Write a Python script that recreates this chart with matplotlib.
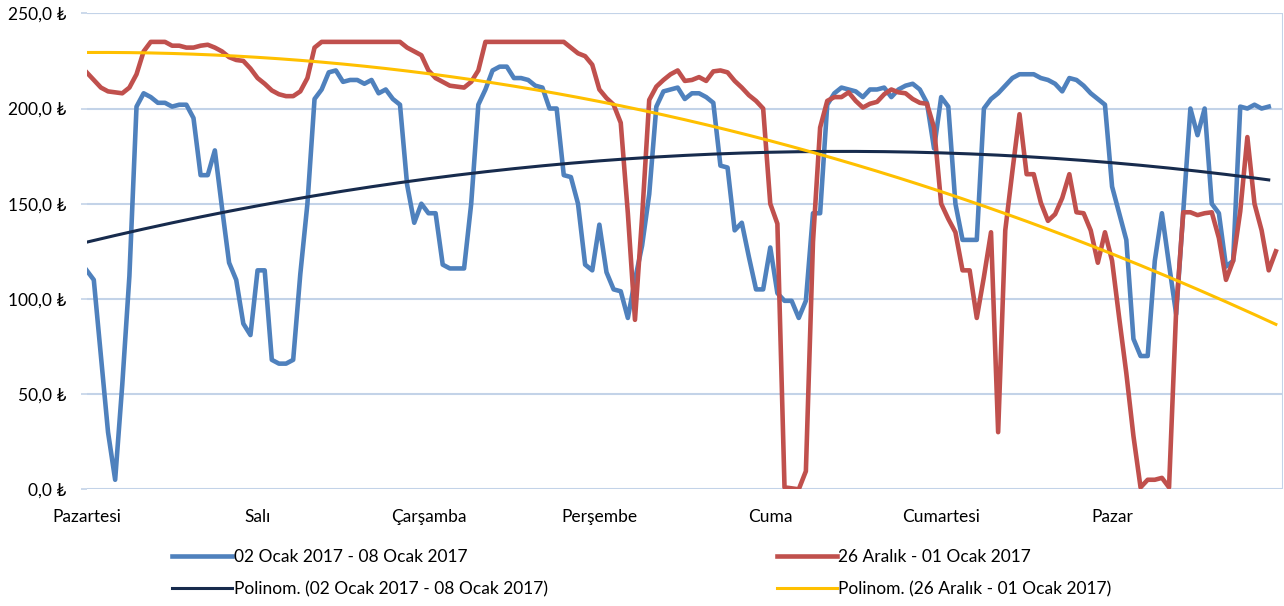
import numpy as np
import matplotlib
matplotlib.use("Agg")
import matplotlib.pyplot as plt

# ========== Datos ==========
days = ["Pazartesi", "Salı", "Çarşamba", "Perşembe", "Cuma", "Cumartesi", "Pazar"]

# 02 Ocak 2017 - 08 Ocak 2017 (saatlik, son saat yok)
week_jan = [
    115, 110, 70, 30, 5, 55, 112, 201, 208, 206, 203, 203, 201, 202, 202, 195,
    165, 165, 178, 148, 119, 110, 87, 81,
    115, 115, 68, 66, 66, 68, 113, 150, 205, 210, 219, 220, 214, 215, 215, 213,
    215, 208, 210, 205, 202, 160, 140, 150,
    145, 145, 118, 116, 116, 116, 150, 202, 210, 220, 222, 222, 216, 216, 215, 212,
    211, 200, 200, 165, 164, 150, 118, 115,
    139, 114, 105, 104, 90, 110, 128, 155, 201, 209, 210, 211, 205, 208, 208, 206,
    203, 170, 169, 136, 140, 122, 105, 105,
    127, 103, 99, 99, 90, 99, 145, 145, 202, 208, 211, 210, 209, 206, 210, 210,
    211, 206, 210, 212, 213, 210, 203, 179,
    206, 201, 150, 131, 131, 131, 200, 205, 208, 212, 216, 218, 218, 218, 216, 215,
    213, 209, 216, 215, 212, 208, 205, 202,
    159, 145, 131, 79, 70, 70, 120, 145, 118, 92, 146, 200, 186, 200, 150, 145,
    117, 120, 201, 200, 202, 200, 201,
]

# 26 Aralık - 01 Ocak 2017
week_dec = [
    219, 215, 211, 209, 208.5, 208, 211, 218, 230, 235, 235, 235, 233, 233, 232, 232,
    233, 233.5, 232, 230, 227, 225.5, 225, 221,
    216, 213, 209.5, 207.5, 206.5, 206.5, 209, 216, 232, 235, 235, 235, 235, 235, 235, 235,
    235, 235, 235, 235, 235, 232, 230, 228,
    220, 216, 214, 212, 211.5, 211, 214, 220, 235, 235, 235, 235, 235, 235, 235, 235,
    235, 235, 235, 235, 232, 229, 227.5, 223,
    210, 205.5, 202, 192.5, 145, 89, 143, 204.5, 211.5, 215, 218, 220, 214.5, 215, 216.5, 214.5,
    219.5, 220, 219, 214.5, 211, 207, 204, 200,
    150, 139.5, 1, 0.5, 0, 9.5, 130, 190, 204, 206, 206, 208.5, 204, 200.5, 202.5, 203.5,
    207.5, 210, 208.5, 208, 205, 203, 202.5, 190,
    150, 142, 135, 115, 115, 90, 111.5, 135, 30, 136, 167, 197, 165.5, 165.5, 150.5, 141,
    144.5, 153, 165.5, 145.5, 145, 136, 119, 135,
    120, 90, 61, 28, 1, 5, 5, 6, 1, 94, 145.5, 145.5, 144, 145, 145.5, 132,
    110, 120, 146, 185, 150, 136, 115, 125,
]

label_jan = "02 Ocak 2017 - 08 Ocak 2017"
label_dec = "26 Aralık - 01 Ocak 2017"

# ========== Estilo ==========
plt.rcParams["font.family"] = ["Lato", "DejaVu Sans"]
grid_col = "#c3d3e8"
fs = 12.5

fig = plt.figure(figsize=(12.84, 6.06), dpi=100)
ax = fig.add_axes([0.0675, 0.1926, 0.9317, 0.7854])

x_jan = np.arange(len(week_jan))
x_dec = np.arange(len(week_dec))

# Polinom. trend lines (order 2)
trend_jan = np.polyval(np.polyfit(x_jan, week_jan, 2), x_jan)
trend_dec = np.polyval(np.polyfit(x_dec, week_dec, 2), x_dec)

l1, = ax.plot(x_jan, week_jan, color="#4f81bd", lw=3.3, label=label_jan, zorder=3)
l2, = ax.plot(x_dec, week_dec, color="#c0504d", lw=3.3, label=label_dec, zorder=3)
l3, = ax.plot(x_jan, trend_jan, color="#172b4d", lw=2.2,
              label="Polinom. (" + label_jan + ")", zorder=4)
l4, = ax.plot(x_dec, trend_dec, color="#ffc000", lw=2.2,
              label="Polinom. (" + label_dec + ")", zorder=4)

ax.set_xlim(0, 168)
ax.set_ylim(0, 250)
ax.set_yticks(np.arange(0, 251, 50))
ax.set_yticklabels([f"{v:.1f}".replace(".", ",") + " ₺" for v in np.arange(0, 251, 50)])
ax.set_xticks(np.arange(0, 168, 24))
ax.set_xticklabels(days)
ax.set_xticks(np.arange(0, 169, 24), minor=True)

ax.grid(True, which="major", axis="y", color=grid_col, lw=1.5)
ax.grid(True, which="minor", axis="x", color=grid_col, lw=1.5)
for s in ax.spines.values():
    s.set_visible(False)
ax.tick_params(axis="y", length=4.5, color=grid_col, width=1.2, labelsize=fs, pad=10)
ax.tick_params(axis="x", which="major", length=0, labelsize=fs, pad=14)
ax.tick_params(axis="x", which="minor", length=0)
ax.axhline(250, color="#dde6f2", lw=1.5, zorder=1)

fig.legend(handles=[l1, l3, l2, l4], ncol=2, loc="upper left",
           bbox_to_anchor=(0.1285, 0.1056), frameon=False, fontsize=fs,
           handlelength=3.45, handletextpad=0.1, columnspacing=13.2,
           labelspacing=0.95, borderaxespad=0)

fig.savefig("out.png", dpi=100)
